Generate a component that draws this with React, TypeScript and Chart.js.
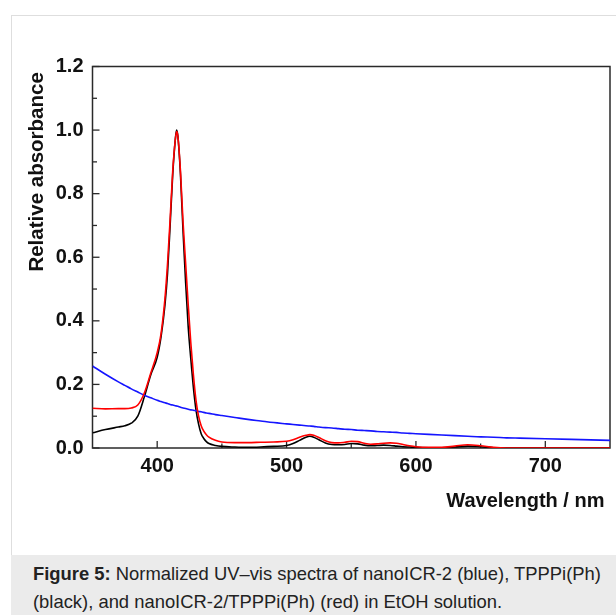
import React, { useEffect, useRef } from "react";
import { Chart, registerables } from "chart.js";

Chart.register(...registerables);

// Wavelength grid (nm)
const WAVELENGTH = [
  350, 360, 370, 375, 380, 385, 390, 395, 400, 403, 406, 408, 410, 412, 414, 415, 416, 418, 420, 422,
  424, 426, 428, 430, 432, 434, 436, 438, 440, 445, 450, 460, 470, 480, 490, 500, 505, 510, 515, 518,
  521, 525, 530, 535, 540, 545, 550, 555, 560, 565, 570, 575, 580, 585, 590, 595, 600, 610, 620, 630,
  640, 650, 660, 670, 680, 700, 720, 750,
];

// nanoICR-2 (blue)
const NANOICR = [
  0.258, 0.232, 0.208, 0.197, 0.186, 0.176, 0.166, 0.158, 0.150, 0.146, 0.142, 0.140, 0.137, 0.135, 0.133, 0.132, 0.131, 0.128, 0.126, 0.124,
  0.122, 0.120, 0.119, 0.117, 0.115, 0.114, 0.112, 0.110, 0.109, 0.105, 0.102, 0.096, 0.090, 0.085, 0.080, 0.076, 0.074, 0.072, 0.070, 0.069,
  0.068, 0.066, 0.064, 0.063, 0.061, 0.059, 0.058, 0.056, 0.055, 0.054, 0.052, 0.051, 0.050, 0.049, 0.047, 0.046, 0.045, 0.043, 0.041, 0.039,
  0.037, 0.035, 0.034, 0.032, 0.031, 0.029, 0.027, 0.024,
];

// TPPPi(Ph) (black)
const TPPPI = [
  0.048, 0.058, 0.066, 0.070, 0.078, 0.100, 0.160, 0.230, 0.285, 0.350, 0.450, 0.550, 0.700, 0.860, 0.970, 1.000, 0.980, 0.860, 0.680, 0.520,
  0.380, 0.280, 0.190, 0.120, 0.075, 0.045, 0.030, 0.020, 0.014, 0.008, 0.005, 0.003, 0.002, 0.003, 0.005, 0.008, 0.014, 0.024, 0.034, 0.037,
  0.034, 0.026, 0.016, 0.011, 0.010, 0.011, 0.014, 0.013, 0.009, 0.007, 0.008, 0.009, 0.008, 0.006, 0.004, 0.003, 0.002, 0.001, 0.001, 0.003,
  0.006, 0.004, 0.001, 0.000, 0.000, 0.000, 0.000, 0.000,
];

// nanoICR-2/TPPPi(Ph) (red)
const MIXTURE = [
  0.125, 0.123, 0.124, 0.124, 0.126, 0.135, 0.172, 0.235, 0.300, 0.360, 0.470, 0.580, 0.720, 0.870, 0.970, 0.995, 0.980, 0.870, 0.710, 0.580,
  0.450, 0.330, 0.230, 0.150, 0.100, 0.070, 0.053, 0.042, 0.034, 0.024, 0.019, 0.017, 0.017, 0.018, 0.019, 0.021, 0.026, 0.034, 0.040, 0.042,
  0.040, 0.033, 0.023, 0.017, 0.016, 0.018, 0.021, 0.020, 0.015, 0.012, 0.013, 0.015, 0.016, 0.015, 0.011, 0.007, 0.004, 0.002, 0.002, 0.006,
  0.010, 0.007, 0.002, 0.000, 0.000, 0.000, 0.000, 0.000,
];

const X_MAJOR = [400, 500, 600, 700];
const X_MINOR = [450, 550, 650];
const Y_MAJOR = [0, 0.2, 0.4, 0.6, 0.8, 1.0, 1.2];
const Y_MINOR = [0.1, 0.3, 0.5, 0.7, 0.9, 1.1];

const CAPTION_BOLD = "Figure 5:";
const CAPTION_LINE1 = " Normalized UV\u2013vis spectra of nanoICR-2 (blue), TPPPi(Ph)";
const CAPTION_LINE2 = "(black), and nanoICR-2/TPPPi(Ph) (red) in EtOH solution.";

const FONT = "'Liberation Sans', Arial, Helvetica, sans-serif";

const frameTicks = {
  id: "frameTicks",
  beforeDatasetsDraw(chart: any) {
    const { ctx, chartArea } = chart;
    const xs = chart.scales.x;
    const ys = chart.scales.y;
    ctx.save();
    ctx.strokeStyle = "#2a2a2a";
    ctx.lineWidth = 1.5;
    ctx.strokeRect(chartArea.left, chartArea.top, chartArea.right - chartArea.left, chartArea.bottom - chartArea.top);
    ctx.lineWidth = 1.3;
    const drawX = (v: number, len: number) => {
      const px = xs.getPixelForValue(v);
      ctx.beginPath();
      ctx.moveTo(px, chartArea.bottom);
      ctx.lineTo(px, chartArea.bottom - len);
      ctx.stroke();
    };
    const drawY = (v: number, len: number) => {
      const py = ys.getPixelForValue(v);
      ctx.beginPath();
      ctx.moveTo(chartArea.left, py);
      ctx.lineTo(chartArea.left + len, py);
      ctx.stroke();
    };
    X_MAJOR.forEach((v) => drawX(v, 7));
    X_MINOR.forEach((v) => drawX(v, 4.5));
    Y_MAJOR.forEach((v) => drawY(v, 7));
    Y_MINOR.forEach((v) => drawY(v, 4.5));
    ctx.restore();
  },
};

function toPoints(vals: number[]) {
  return WAVELENGTH.map((x, i) => ({ x, y: vals[i] }));
}

export default function App() {
  const ref = useRef<HTMLCanvasElement | null>(null);

  useEffect(() => {
    if (!ref.current) return;
    const common = {
      pointRadius: 0,
      borderWidth: 1.6,
      fill: false,
      cubicInterpolationMode: "monotone" as const,
    };
    const chart = new Chart(ref.current, {
      type: "line",
      data: {
        datasets: [
          { label: "nanoICR-2/TPPPi(Ph)", data: toPoints(MIXTURE), borderColor: "#ff0000", ...common },
          { label: "nanoICR-2", data: toPoints(NANOICR), borderColor: "#1515ff", ...common },
          { label: "TPPPi(Ph)", data: toPoints(TPPPI), borderColor: "#000000", ...common },
        ],
      },
      options: {
        animation: false,
        responsive: false,
        devicePixelRatio: 1,
        layout: { padding: { top: 66.5, right: 6, left: 0, bottom: 0 } },
        plugins: { legend: { display: false }, tooltip: { enabled: false } },
        scales: {
          x: {
            type: "linear",
            min: 350,
            max: 750,
            grid: { display: false, drawTicks: false },
            border: { display: false },
            afterBuildTicks: (s: any) => {
              s.ticks = X_MAJOR.map((value) => ({ value }));
            },
            afterFit: (s: any) => {
              s.height = 107;
            },
            ticks: {
              padding: 6.5,
              color: "#111",
              font: { family: FONT, size: 20, weight: "bold" },
              callback: (v: any) => String(v),
            },
            title: {
              display: true,
              text: "Wavelength / nm ",
              align: "end",
              color: "#111",
              padding: { top: 0, bottom: 42 },
              font: { family: FONT, size: 20, weight: "bold" },
            },
          },
          y: {
            type: "linear",
            min: 0,
            max: 1.2,
            grid: { display: false, drawTicks: false },
            border: { display: false },
            afterBuildTicks: (s: any) => {
              s.ticks = Y_MAJOR.map((value) => ({ value }));
            },
            afterFit: (s: any) => {
              s.width = 92.5;
            },
            ticks: {
              padding: 9,
              color: "#111",
              font: { family: FONT, size: 20, weight: "bold" },
              callback: (v: any) => Number(v).toFixed(1),
            },
            title: {
              display: true,
              text: "Relative absorbance ",
              align: "end",
              color: "#111",
              padding: { top: 24.7, bottom: 0 },
              font: { family: FONT, size: 20.5, weight: "bold" },
            },
          },
        },
      },
      plugins: [frameTicks],
    });
    return () => chart.destroy();
  }, []);

  return (
    <div style={{ position: "absolute", left: 0, top: 0, width: 616, height: 615, overflow: "hidden", background: "#fff" }}>
      <div
        style={{
          position: "absolute",
          left: 11,
          top: 15,
          width: 620,
          height: 540,
          borderLeft: "1px solid #dedede",
          borderTop: "1px solid #dedede",
        }}
      />
      <canvas ref={ref} width={616} height={555} style={{ position: "absolute", left: 0, top: 0, width: 616, height: 555 }} />
      <div
        style={{
          position: "absolute",
          left: 11,
          top: 555,
          width: 605,
          height: 60,
          background: "#ebebeb",
          boxSizing: "border-box",
          padding: "5px 0 0 22px",
          fontFamily: FONT,
          fontSize: 18.4,
          lineHeight: "28px",
          color: "#222",
          whiteSpace: "nowrap",
        }}
      >
        <b>{CAPTION_BOLD}</b>
        {CAPTION_LINE1}
        <br />
        {CAPTION_LINE2}
      </div>
    </div>
  );
}
